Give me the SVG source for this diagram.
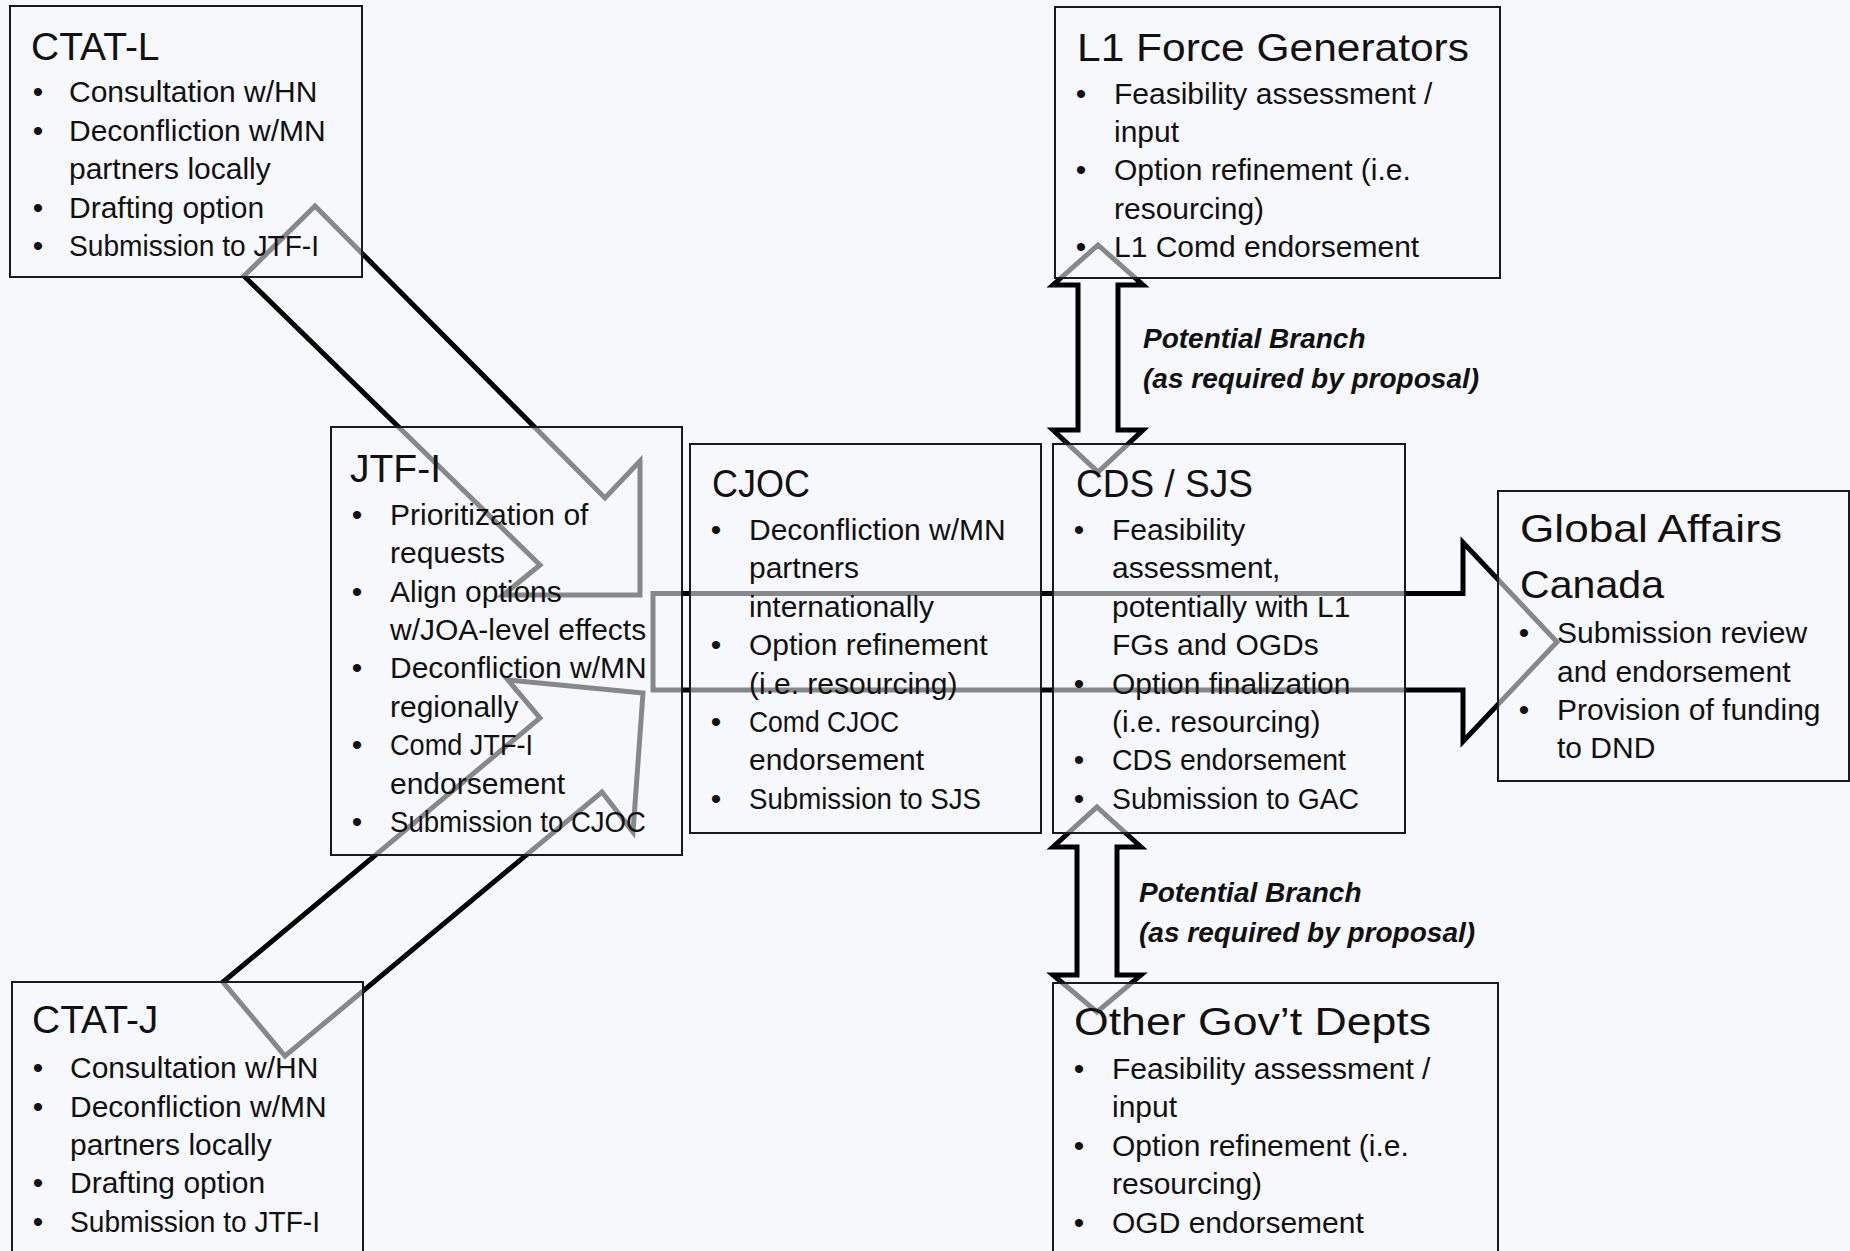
<svg xmlns="http://www.w3.org/2000/svg" width="1850" height="1251" viewBox="0 0 1850 1251">
<style>
  text { font-family: "Liberation Sans", Arial, sans-serif; fill: #111; }
  .t { font-size: 39px; }
  .b { font-size: 30px; }
  .bl { font-size: 30px; text-anchor: middle; }
  .lbl { font-size: 28px; font-weight: bold; font-style: italic; }
  .box { fill: #f6f8fb; fill-opacity: 0.55; stroke: #1a1a1a; stroke-width: 2; }
  .arr { fill: none; stroke: #000; stroke-width: 5; stroke-linejoin: miter; }
</style>
<rect x="0" y="0" width="1850" height="1251" fill="#f6f8fb"/>

<g id="connectors">
  <polygon id="arrow-ctatl-jtfi" class="arr" points="315,206 605,498 640,461 640,595 503,595 540,565 244,276"/>
  <polygon id="arrow-ctatj-jtfi" class="arr" points="223,982 540,718 508,680 643,693 633,832 602,792 285,1056"/>
  <polygon id="arrow-jtfi-gac" class="arr" points="653,593.5 1463,593.5 1463,542.5 1557,642 1463,741.5 1463,690 653,690"/>
  <polygon id="arrow-l1-cds" class="arr" points="1098,245 1143,285 1118,285 1118,430 1143,430 1098,472 1053,430 1078,430 1078,285 1053,285"/>
  <polygon id="arrow-cds-ogd" class="arr" points="1097,807 1141,847 1117,847 1117,975 1141,975 1097,1012 1053,975 1077,975 1077,847 1053,847"/>
</g>

<g id="label-branch-1">
  <text class="lbl" x="1143" y="348">Potential Branch</text>
  <text class="lbl" x="1143" y="388">(as required by proposal)</text>
</g>
<g id="label-branch-2">
  <text class="lbl" x="1139" y="902">Potential Branch</text>
  <text class="lbl" x="1139" y="942">(as required by proposal)</text>
</g>

<g id="node-ctat-l">
  <rect class="box" x="10" y="6" width="352" height="271"/>
  <text class="t" x="31" y="60">CTAT-L</text>
  <text class="bl" x="38" y="102">•</text><text class="b" x="69" y="102">Consultation w/HN</text>
  <text class="bl" x="38" y="141">•</text><text class="b" x="69" y="141">Deconfliction w/MN</text>
  <text class="b" x="69" y="179">partners locally</text>
  <text class="bl" x="38" y="218">•</text><text class="b" x="69" y="218">Drafting option</text>
  <text class="bl" x="38" y="256">•</text><text class="b" x="69" y="256" textLength="250" lengthAdjust="spacingAndGlyphs">Submission to JTF-I</text>
</g>

<g id="node-jtf-i">
  <rect class="box" x="331" y="427" width="351" height="428"/>
  <text class="t" x="350" y="482">JTF-I</text>
  <text class="bl" x="357" y="525">•</text><text class="b" x="390" y="525">Prioritization of</text>
  <text class="b" x="390" y="563">requests</text>
  <text class="bl" x="357" y="602">•</text><text class="b" x="390" y="602">Align options</text>
  <text class="b" x="390" y="640">w/JOA-level effects</text>
  <text class="bl" x="357" y="678">•</text><text class="b" x="390" y="678">Deconfliction w/MN</text>
  <text class="b" x="390" y="717">regionally</text>
  <text class="bl" x="357" y="755">•</text><text class="b" x="390" y="755" textLength="143" lengthAdjust="spacingAndGlyphs">Comd JTF-I</text>
  <text class="b" x="390" y="794">endorsement</text>
  <text class="bl" x="357" y="832">•</text><text class="b" x="390" y="832" textLength="256" lengthAdjust="spacingAndGlyphs">Submission to CJOC</text>
</g>

<g id="node-cjoc">
  <rect class="box" x="690" y="444" width="351" height="389"/>
  <text class="t" x="712" y="497" textLength="98" lengthAdjust="spacingAndGlyphs">CJOC</text>
  <text class="bl" x="716" y="540">•</text><text class="b" x="749" y="540">Deconfliction w/MN</text>
  <text class="b" x="749" y="578">partners</text>
  <text class="b" x="749" y="617">internationally</text>
  <text class="bl" x="716" y="655">•</text><text class="b" x="749" y="655">Option refinement</text>
  <text class="b" x="749" y="694">(i.e. resourcing)</text>
  <text class="bl" x="716" y="732">•</text><text class="b" x="749" y="732" textLength="150" lengthAdjust="spacingAndGlyphs">Comd CJOC</text>
  <text class="b" x="749" y="770">endorsement</text>
  <text class="bl" x="716" y="809">•</text><text class="b" x="749" y="809" textLength="232" lengthAdjust="spacingAndGlyphs">Submission to SJS</text>
</g>

<g id="node-cds-sjs">
  <rect class="box" x="1053" y="444" width="352" height="389"/>
  <text class="t" x="1076" y="497" textLength="177" lengthAdjust="spacingAndGlyphs">CDS / SJS</text>
  <text class="bl" x="1079" y="540">•</text><text class="b" x="1112" y="540">Feasibility</text>
  <text class="b" x="1112" y="578">assessment,</text>
  <text class="b" x="1112" y="617">potentially with L1</text>
  <text class="b" x="1112" y="655">FGs and OGDs</text>
  <text class="bl" x="1079" y="694">•</text><text class="b" x="1112" y="694">Option finalization</text>
  <text class="b" x="1112" y="732">(i.e. resourcing)</text>
  <text class="bl" x="1079" y="770">•</text><text class="b" x="1112" y="770" textLength="234" lengthAdjust="spacingAndGlyphs">CDS endorsement</text>
  <text class="bl" x="1079" y="809">•</text><text class="b" x="1112" y="809" textLength="247" lengthAdjust="spacingAndGlyphs">Submission to GAC</text>
</g>

<g id="node-l1-fg">
  <rect class="box" x="1055" y="7" width="445" height="271"/>
  <text class="t" x="1077" y="61" textLength="392" lengthAdjust="spacingAndGlyphs">L1 Force Generators</text>
  <text class="bl" x="1081" y="104">•</text><text class="b" x="1114" y="104">Feasibility assessment /</text>
  <text class="b" x="1114" y="142">input</text>
  <text class="bl" x="1081" y="180">•</text><text class="b" x="1114" y="180">Option refinement (i.e.</text>
  <text class="b" x="1114" y="219">resourcing)</text>
  <text class="bl" x="1081" y="257">•</text><text class="b" x="1114" y="257">L1 Comd endorsement</text>
</g>

<g id="node-gac">
  <rect class="box" x="1498" y="491" width="351" height="290"/>
  <text class="t" x="1520" y="542" textLength="262" lengthAdjust="spacingAndGlyphs">Global Affairs</text>
  <text class="t" x="1520" y="598" textLength="144" lengthAdjust="spacingAndGlyphs">Canada</text>
  <text class="bl" x="1524" y="643">•</text><text class="b" x="1557" y="643">Submission review</text>
  <text class="b" x="1557" y="682">and endorsement</text>
  <text class="bl" x="1524" y="720">•</text><text class="b" x="1557" y="720">Provision of funding</text>
  <text class="b" x="1557" y="758">to DND</text>
</g>

<g id="node-ctat-j">
  <rect class="box" x="12" y="982" width="351" height="290"/>
  <text class="t" x="32" y="1033">CTAT-J</text>
  <text class="bl" x="38" y="1078">•</text><text class="b" x="70" y="1078">Consultation w/HN</text>
  <text class="bl" x="38" y="1117">•</text><text class="b" x="70" y="1117">Deconfliction w/MN</text>
  <text class="b" x="70" y="1155">partners locally</text>
  <text class="bl" x="38" y="1193">•</text><text class="b" x="70" y="1193">Drafting option</text>
  <text class="bl" x="38" y="1232">•</text><text class="b" x="70" y="1232" textLength="250" lengthAdjust="spacingAndGlyphs">Submission to JTF-I</text>
</g>

<g id="node-ogd">
  <rect class="box" x="1053" y="983" width="445" height="290"/>
  <text class="t" x="1074" y="1035" textLength="357" lengthAdjust="spacingAndGlyphs">Other Gov’t Depts</text>
  <text class="bl" x="1079" y="1079">•</text><text class="b" x="1112" y="1079">Feasibility assessment /</text>
  <text class="b" x="1112" y="1117">input</text>
  <text class="bl" x="1079" y="1156">•</text><text class="b" x="1112" y="1156">Option refinement (i.e.</text>
  <text class="b" x="1112" y="1194">resourcing)</text>
  <text class="bl" x="1079" y="1233">•</text><text class="b" x="1112" y="1233">OGD endorsement</text>
</g>
</svg>
